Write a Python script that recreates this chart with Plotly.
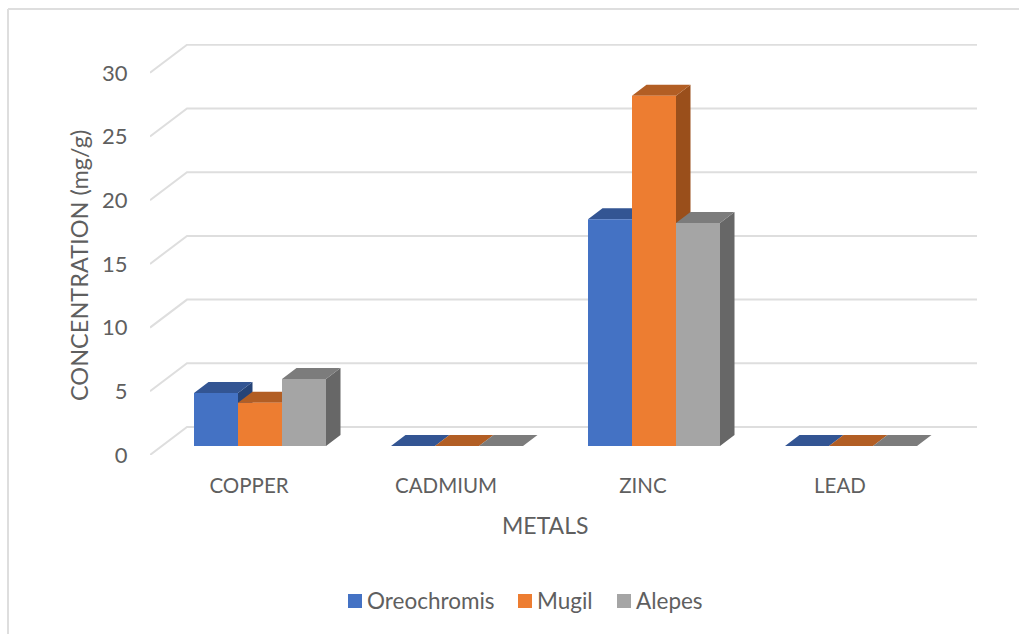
import plotly.graph_objects as go

categories = ["COPPER", "CADMIUM", "ZINC", "LEAD"]
series_names = ["Oreochromis", "Mugil", "Alepes"]
oreochromis = [4.16, 0, 17.8, 0]
mugil = [3.4, 0, 27.5, 0]
alepes = [5.26, 0, 17.5, 0]
y_ticks = [0, 5, 10, 15, 20, 25, 30]

front_colors = ["#4472C4", "#ED7D31", "#A5A5A5"]
top_colors = ["#335593", "#B25E24", "#7C7C7C"]
side_colors = ["#264478", "#9A4F1B", "#676767"]
GRID = "#DEDEDE"
TEXT = "#5F5F5F"
FONT = "Lato"

W, H = 1019, 634
L, R, T, B = 150, 977, 44, 455
PX_X = 197.0            # pixels per category
PX_Y = 12.74            # pixels per unit
X0 = 249                # pixel of the first category
x_range = [(L - X0) / PX_X, (R - X0) / PX_X]
y_range = [0, (B - T) / PX_Y]

wall_dx, wall_dy = 37 / PX_X, 28 / PX_Y
bar_dx, bar_dy = 14.5 / PX_X, 11 / PX_Y
floor_lift = 9 / PX_Y
bar_w = 44 / PX_X
cluster_left = -55 / PX_X

fig = go.Figure()

# walls: front edge, depth edge, then along the back wall
gx, gy = [], []
for t in y_ticks:
    gx += [x_range[0], x_range[0] + wall_dx, x_range[1], None]
    gy += [t, t + wall_dy, t + wall_dy, None]
fig.add_trace(go.Scatter(x=gx, y=gy, mode="lines", line=dict(color=GRID, width=2),
                         hoverinfo="skip", showlegend=False, cliponaxis=False, zorder=0))

all_values = [oreochromis, mugil, alepes]
for s, values in enumerate(all_values):
    sx, sy, tx, ty = [], [], [], []
    for c, v in enumerate(values):
        x0 = c + cluster_left + s * bar_w
        x1 = x0 + bar_w
        b = floor_lift
        h = floor_lift + v
        sx += [x1, x1 + bar_dx, x1 + bar_dx, x1, x1, None]
        sy += [b, b + bar_dy, h + bar_dy, h, b, None]
        tx += [x0, x0 + bar_dx, x1 + bar_dx, x1, x0, None]
        ty += [h, h + bar_dy, h + bar_dy, h, h, None]
    fig.add_trace(go.Scatter(x=sx, y=sy, mode="lines", fill="toself", fillcolor=side_colors[s],
                             line=dict(width=0, color=side_colors[s]), hoverinfo="skip",
                             showlegend=False, zorder=1))
    fig.add_trace(go.Scatter(x=tx, y=ty, mode="lines", fill="toself", fillcolor=top_colors[s],
                             line=dict(width=0, color=top_colors[s]), hoverinfo="skip",
                             showlegend=False, zorder=1))

for s, values in enumerate(all_values):
    fig.add_trace(go.Bar(x=list(range(len(categories))), y=values,
                         base=floor_lift, width=bar_w,
                         offset=cluster_left + s * bar_w,
                         name=series_names[s], marker=dict(color=front_colors[s], line=dict(width=0)),
                         showlegend=False, zorder=2))


def px(x):
    return (x - L) / (R - L)


def py(y):
    return (B - y) / (B - T)


annotations = [
    dict(text="METALS", x=px(545), y=py(525), showarrow=False,
         font=dict(family=FONT, size=23, color=TEXT), xanchor="center", yanchor="middle"),
    dict(text="CONCENTRATION (mg/g)", x=px(79), y=py(266), textangle=-90, showarrow=False,
         font=dict(family=FONT, size=23.5, color=TEXT), xanchor="center", yanchor="middle"),
]
shapes = [
    dict(type="line", xref="paper", yref="paper", x0=px(8), x1=px(8), y0=py(9), y1=py(634),
         line=dict(color=GRID, width=2)),
    dict(type="line", xref="paper", yref="paper", x0=px(8), x1=px(1019), y0=py(9), y1=py(9),
         line=dict(color=GRID, width=2)),
]
legend_swatch_x = [348, 518, 617]
legend_text_x = [365, 535, 634]
for s, name in enumerate(series_names):
    shapes.append(dict(type="rect", xref="paper", yref="paper",
                       x0=px(legend_swatch_x[s]), x1=px(legend_swatch_x[s] + 14),
                       y0=py(594), y1=py(608), fillcolor=front_colors[s], line=dict(width=0)))
    annotations.append(dict(text=name, x=px(legend_text_x[s]), y=py(600), showarrow=False,
                            xanchor="left", yanchor="middle",
                            font=dict(family=FONT, size=22.5, color=TEXT)))

for a in annotations:
    a.update(xref="paper", yref="paper")

fig.update_layout(
    width=W, height=H, autosize=False,
    margin=dict(l=L, r=W - R, t=T, b=H - B, pad=0),
    paper_bgcolor="white", plot_bgcolor="white",
    barmode="overlay", showlegend=False,
    annotations=annotations, shapes=shapes,
    xaxis=dict(range=x_range, tickmode="array", tickvals=list(range(len(categories))),
               ticktext=categories, showgrid=False, zeroline=False, showline=False,
               ticks="outside", ticklen=12, tickcolor="rgba(0,0,0,0)",
               tickfont=dict(family=FONT, size=20.5, color=TEXT)),
    yaxis=dict(range=y_range, tickmode="array", tickvals=y_ticks, showgrid=False,
               zeroline=False, showline=False, ticks="outside", ticklen=17,
               tickcolor="rgba(0,0,0,0)",
               tickfont=dict(family=FONT, size=22, color=TEXT)),
)

fig.write_html("out.html", config={"displayModeBar": False},
               post_script="document.body.style.margin='0';"
                           "document.documentElement.style.overflow='hidden';")
